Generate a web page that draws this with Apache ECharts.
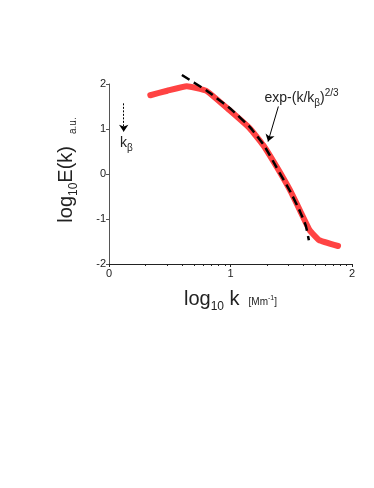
<!DOCTYPE html>
<html>
<head>
<meta charset="utf-8">
<script src="https://cdn.jsdelivr.net/npm/echarts@6/dist/echarts.min.js"></script>
<style>
  html, body { margin: 0; padding: 0; background: #fff; }
  #chart { width: 374px; height: 488px; }
</style>
</head>
<body>
<div id="chart"></div>
<script>
// spectrum: log10 k vs log10 E(k)
const spectrumK = [0.34, 0.48, 0.64, 0.80, 0.99, 1.16, 1.27, 1.38, 1.49, 1.57, 1.65, 1.73, 1.885];
const spectrumE = [1.75, 1.85, 1.95, 1.85, 1.42, 1.01, 0.64, 0.16, -0.36, -0.80, -1.24, -1.47, -1.60];

// stretched exponential fit, exp-(k/kb)^(2/3)
const fitK = [0.60, 0.80, 1.00, 1.16, 1.28, 1.38, 1.49, 1.57, 1.62, 1.645];
const fitE = [2.20, 1.86, 1.45, 1.04, 0.62, 0.14, -0.38, -0.82, -1.15, -1.47];

const xTicks = [0, 1, 2];
const xMinorTicks = [0.301, 0.477, 0.602, 0.699, 0.778, 0.845, 0.903, 0.954,
                     1.301, 1.477, 1.602, 1.699, 1.778, 1.845, 1.903, 1.954];

const FONT = "Liberation Sans";
const INK = "#222";

const chart = echarts.init(document.getElementById("chart"));

chart.setOption({
  animation: false,
  textStyle: { fontFamily: FONT, color: INK },
  grid: { left: 109, right: 22, top: 84, bottom: 224 },
  xAxis: [
    {
      type: "value",
      min: 0, max: 2, interval: 1,
      axisLine: { onZero: false, lineStyle: { color: INK, width: 1 } },
      axisTick: { length: 3, customValues: xTicks, lineStyle: { color: INK } },
      axisLabel: { customValues: xTicks, fontSize: 11, color: INK, margin: 4 },
      splitLine: { show: false },
      name: "{a|log}{s|10}{a| k}{g| }{u|[Mm}{p|-1}{u|]}",
      nameLocation: "middle",
      nameGap: 21,
      nameTextStyle: {
        rich: {
          a: { fontSize: 20, fontFamily: FONT, color: INK, lineHeight: 24, verticalAlign: "bottom" },
          s: { fontSize: 12, fontFamily: FONT, color: INK, lineHeight: 24, verticalAlign: "bottom", padding: [0, 0, -4, 0] },
          g: { width: 9, fontSize: 10, lineHeight: 24 },
          u: { fontSize: 10, fontFamily: FONT, color: INK, lineHeight: 24, verticalAlign: "bottom", padding: [0, 0, 2, 0] },
          p: { fontSize: 7, fontFamily: FONT, color: INK, lineHeight: 24, verticalAlign: "bottom", padding: [0, 0, 7, 0] }
        }
      }
    },
    {
      type: "value",
      min: 0, max: 2,
      position: "bottom",
      axisLine: { show: false, onZero: false },
      axisTick: { show: true, length: 2, customValues: xMinorTicks, lineStyle: { color: INK } },
      axisLabel: { show: false },
      splitLine: { show: false }
    }
  ],
  yAxis: {
    type: "value",
    min: -2, max: 2, interval: 1,
    axisLine: { show: true, onZero: false, lineStyle: { color: "#555", width: 1 } },
    axisTick: { show: true, length: 3, lineStyle: { color: "#555" } },
    axisLabel: { fontSize: 11, color: INK, margin: 3 },
    splitLine: { show: false },
    name: "{a|log}{s|10}{a|E(k)}{g| }{u|a.u.}",
    nameLocation: "middle",
    nameRotate: 90,
    nameGap: 33,
    nameTextStyle: {
      padding: [0, 0, 0, 8],
      rich: {
        a: { fontSize: 20, fontFamily: FONT, color: INK, lineHeight: 24, verticalAlign: "bottom" },
        s: { fontSize: 12, fontFamily: FONT, color: INK, lineHeight: 24, verticalAlign: "bottom", padding: [0, 0, -4, 0] },
        g: { width: 12, fontSize: 10, lineHeight: 24 },
        u: { fontSize: 10, fontFamily: FONT, color: INK, lineHeight: 24, verticalAlign: "bottom", padding: [0, 0, -2, 0] }
      }
    }
  },
  series: [
    {
      name: "spectrum",
      type: "line",
      data: spectrumK.map((k, i) => [k, spectrumE[i]]),
      showSymbol: false,
      smooth: 0.12,
      lineStyle: { color: "#ff4343", width: 6, cap: "round", join: "round" },
      z: 2
    },
    {
      name: "fit",
      type: "line",
      data: fitK.map((k, i) => [k, fitE[i]]),
      showSymbol: false,
      smooth: 0.12,
      clip: false,
      lineStyle: { color: "#000", width: 2.5, type: [9, 5] },
      z: 3,
      markLine: {
        silent: true,
        symbol: ["none", "arrow"],
        symbolSize: 7,
        label: { show: false },
        lineStyle: { color: "#000", width: 1, type: "solid" },
        data: [
          [{ coord: [1.394, 1.50] }, { coord: [1.309, 0.72] }],
          [{ coord: [0.121, 1.57], lineStyle: { type: [2, 1.5] } }, { coord: [0.121, 0.94] }]
        ]
      }
    }
  ]
});

// annotation texts anchored in data space
const fitLabelAt = chart.convertToPixel({ gridIndex: 0 }, [1.28, 1.93]);
const kbLabelAt = chart.convertToPixel({ gridIndex: 0 }, [0.09, 0.93]);

chart.setOption({
  graphic: [
    {
      type: "text",
      x: fitLabelAt[0], y: fitLabelAt[1],
      style: {
        text: "{a|exp-(k/k}{s|β}{a|)}{p|2/3}",
        fill: INK,
        rich: {
          a: { fontSize: 14, fontFamily: FONT, fill: INK, lineHeight: 18, verticalAlign: "bottom" },
          s: { fontSize: 10, fontFamily: FONT, fill: INK, lineHeight: 18, verticalAlign: "bottom", padding: [0, 0, -3, 0] },
          p: { fontSize: 10, fontFamily: FONT, fill: INK, lineHeight: 18, verticalAlign: "bottom", padding: [0, 0, 7, 0] }
        }
      }
    },
    {
      type: "text",
      x: kbLabelAt[0], y: kbLabelAt[1],
      style: {
        text: "{a|k}{s|β}",
        fill: INK,
        rich: {
          a: { fontSize: 14, fontFamily: FONT, fill: INK, lineHeight: 18, verticalAlign: "bottom" },
          s: { fontSize: 10, fontFamily: FONT, fill: INK, lineHeight: 18, verticalAlign: "bottom", padding: [0, 0, -3, 0] }
        }
      }
    }
  ]
});
</script>
</body>
</html>
